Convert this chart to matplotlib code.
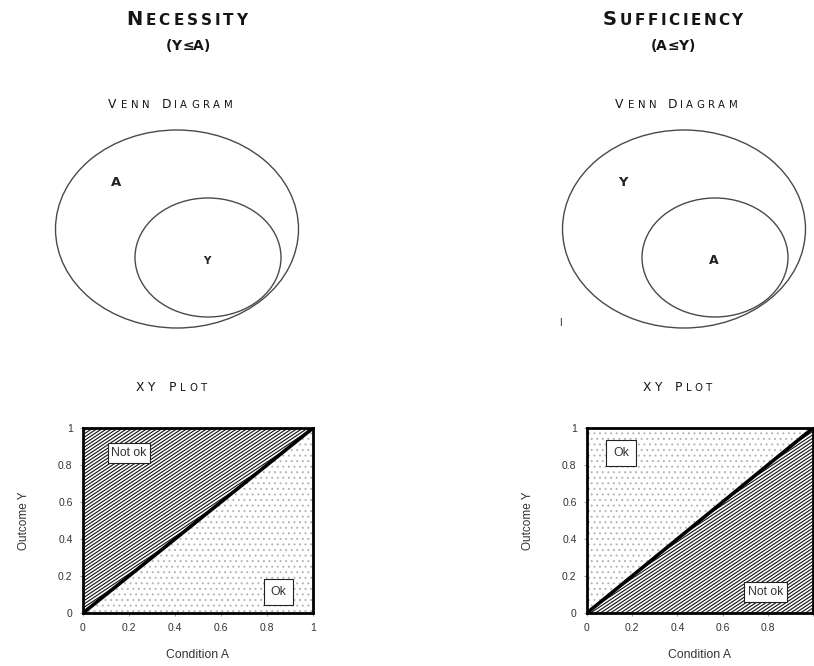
import numpy as np
import matplotlib
matplotlib.use('Agg')
import matplotlib.pyplot as plt
import matplotlib.hatch as mhatch
from matplotlib.path import Path
from matplotlib.patches import Ellipse
from matplotlib.font_manager import FontProperties, findfont, get_font

plt.rcParams['font.family'] = ['Liberation Sans', 'DejaVu Sans']

# data
condition_a = [0, 1]
outcome_y = [0, 1]
tick_values = [0, 0.2, 0.4, 0.6, 0.8, 1]
tick_labels = ['0', '0.2', '0.4', '0.6', '0.8', '1']
panel_titles = ['Necessity', 'Sufficiency']
panel_relations = ['(Y≤A)', '(A≤Y)']
outer_sets = ['A', 'Y']
inner_sets = ['Y', 'A']
upper_labels = ['Not ok', 'Ok']
lower_labels = ['Ok', 'Not ok']


class ShallowHatch(mhatch.HatchPatternBase):
    """'/' hatch with a flatter slope, the original picture is stretched sideways"""
    rows = 30
    rise = 20

    def __init__(self, hatch, density):
        self.num_lines = self.rows + self.rise + 1 if '/' in hatch else 0
        self.num_vertices = self.num_lines * 2

    def set_vertices_and_codes(self, vertices, codes):
        s = self.rise / self.rows
        starts = np.arange(self.num_lines) / self.rows - s
        vertices[0::2, 0] = 0.0
        vertices[0::2, 1] = starts
        vertices[1::2, 0] = 1.0
        vertices[1::2, 1] = starts + s
        codes[0::2] = Path.MOVETO
        codes[1::2] = Path.LINETO


mhatch._hatch_types[mhatch._hatch_types.index(mhatch.NorthEastHatch)] = ShallowHatch

W, H = 814, 666
fig = plt.figure(figsize=(W / 100, H / 100), dpi=100)

# overlay in pixel units for headers and venn shapes
bg = fig.add_axes([0, 0, 1, 1])
bg.set_xlim(0, W)
bg.set_ylim(H, 0)
bg.axis('off')

HEAD_FONT = 'DejaVu Sans'


def advance(c, size, weight):
    prop = FontProperties(family=HEAD_FONT, weight=weight, size=size)
    font = get_font(findfont(prop))
    font.set_size(size, 100)
    g = font.load_char(ord(c))
    return g.linearHoriAdvance / 65536, g.horiBearingX / 64


def small_caps(cx, y, text, big, small, width=None, weight='normal'):
    """Copperplate-ish small caps: lowercase drawn as smaller capitals,
    letters spread out so the word fills the given width"""
    chars = []
    for c in text:
        size = small if c.islower() else big
        adv, bear = advance(c.upper(), size, weight)
        chars.append((c.upper(), size, adv, bear))
    natural = sum(ch[2] for ch in chars)
    if width is None:
        width = natural
    track = (width - natural) / max(len(chars) - 1, 1)
    pen = cx - width / 2
    for c, size, adv, bear in chars:
        if c != ' ':
            bg.text(pen + bear, y, c, fontsize=size, weight=weight, family=HEAD_FONT,
                    va='baseline', ha='left', color='#151515')
        pen += adv + track


title_cx = [186, 672]
title_w = [122, 141]
rel_cx = [187, 672]
venn_cx = [170, 676]
venn_w = [124, 122]
xy_cx = [171, 677]
xy_w = [72, 70]
venn_x = [177, 684]
axes_left = [83, 587]
axes_w = [230, 226]
box_pad = {'Ok': 0.55, 'Not ok': 0.3}

for i in range(2):
    small_caps(title_cx[i], 25, panel_titles[i], 14, 11, title_w[i], weight='bold')
    small_caps(rel_cx[i], 50, panel_relations[i], 10, 10, weight='bold')
    small_caps(venn_cx[i], 108, 'Venn Diagram', 8.8, 7.3, venn_w[i])
    small_caps(xy_cx[i], 391, 'XY Plot', 8.8, 7.3, xy_w[i])

    # venn
    vx = venn_x[i]
    bg.add_patch(Ellipse((vx, 229), 243, 198, fill=False, ec='#4a4a4a', lw=1.0))
    bg.add_patch(Ellipse((vx + 31, 257.5), 146, 119, fill=False, ec='#4a4a4a', lw=1.0))
    bg.text(vx - 61, 183, outer_sets[i], fontsize=9.5, weight='bold', ha='center', va='center',
            family=HEAD_FONT, color='#222222')
    bg.text(vx + 30, 261, inner_sets[i], fontsize=7.5 if i == 0 else 9, weight='bold',
            ha='center', va='center', family=HEAD_FONT, color='#222222')

    # xy plot
    ax = fig.add_axes([axes_left[i] / W, 1 - 613 / H, axes_w[i] / W, 185 / H])
    if i == 0:
        plt.rcParams['hatch.linewidth'] = 0.8
        ax.fill_between(condition_a, outcome_y, 1, facecolor='white', edgecolor='#111111',
                        hatch='/', lw=0)
        plt.rcParams['hatch.linewidth'] = 0.7
        ax.fill_between(condition_a, 0, outcome_y, facecolor='white', edgecolor='#b4b4b4',
                        hatch='...', lw=0)
    else:
        plt.rcParams['hatch.linewidth'] = 0.7
        ax.fill_between(condition_a, outcome_y, 1, facecolor='white', edgecolor='#b4b4b4',
                        hatch='...', lw=0)
        plt.rcParams['hatch.linewidth'] = 0.8
        ax.fill_between(condition_a, 0, outcome_y, facecolor='white', edgecolor='#111111',
                        hatch='/', lw=0)
    ax.plot(condition_a, outcome_y, color='black', lw=2.6, solid_capstyle='butt')
    ax.set_xlim(0, 1)
    ax.set_ylim(0, 1)
    ax.set_xticks(tick_values)
    ax.set_xticklabels(tick_labels)
    ax.set_yticks(tick_values)
    ax.set_yticklabels(tick_labels)
    ax.tick_params(labelsize=7.5, length=2.5, width=0.6, color='#888888', pad=5, labelcolor='#333333')
    if i == 1:
        # the last x label falls off the right edge
        ax.get_xticklabels()[-1].set_visible(False)
    for sp in ax.spines.values():
        sp.set_linewidth(2)
    ax.set_xlabel('Condition A', fontsize=8.8, labelpad=11, color='#333333')
    ax.set_ylabel('Outcome Y', fontsize=8.5, labelpad=20, color='#333333')

    up_x = 0.20 if i == 0 else 0.15
    low_x = 0.85 if i == 0 else 0.79
    for lx, ly, lab in [(up_x, 0.865, upper_labels[i]), (low_x, 0.114, lower_labels[i])]:
        box = dict(boxstyle='square,pad=%s' % box_pad[lab], fc='white', ec='#222222', lw=0.8)
        ax.text(lx, ly, lab, fontsize=8.8, ha='center', va='center', bbox=box, color='#333333')

bg.text(560, 323, 'I', fontsize=7, ha='center', va='center', color='#222222')
bg.set_zorder(5)
bg.patch.set_alpha(0)

fig.savefig('out.png', dpi=100)
